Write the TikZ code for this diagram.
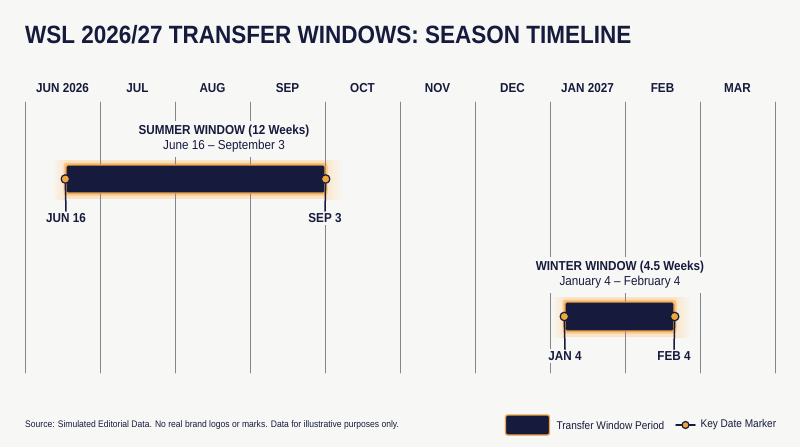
\documentclass[tikz,border=0pt]{standalone}
\usepackage{fontspec}
\setmainfont{Liberation Sans}[FakeStretch=0.9]
\usetikzlibrary{calc}
\definecolor{bgc}{HTML}{F7F7F5}
\definecolor{navy}{HTML}{161B3E}
\definecolor{gridc}{HTML}{85868C}
\definecolor{barc}{HTML}{F0A444}
\definecolor{dotc}{HTML}{EFA63D}
\definecolor{glowc}{HTML}{FBE4C6}
\definecolor{haloc}{HTML}{F6C88A}
% soft glow behind a window bar: x1, x2 (bar ends), y1, y2 (bar top, bottom)
\newcommand{\windowglow}[4]{%
	\shade[left color=bgc, right color=glowc] ({#1-14},{#3-5}) rectangle (#1,{#4+6});
	\fill[glowc] (#1,{#3-5}) rectangle (#2,{#4+6});
	\shade[left color=glowc, right color=bgc] (#2,{#3-5}) rectangle ({#2+17},{#4+6});
	\fill[haloc, rounded corners=3pt] ({#1-2.5},{#3-2.5}) rectangle ({#2+2.5},{#4+2.5});
}

\begin{document}
\begin{tikzpicture}[x=1pt, y=-1pt, line cap=round, line join=round,
	every node/.style={text=navy},
	monthlbl/.style={font=\fontsize{13}{15}\selectfont\bfseries, anchor=base},
	datelbl/.style={font=\fontsize{13}{15}\selectfont\bfseries, fill=bgc, inner sep=2pt},
	winlbl/.style={align=center, fill=bgc, inner sep=3pt, font=\fontsize{13}{16}\selectfont},
	legtxt/.style={anchor=west, font=\fontsize{11.2}{13}\selectfont},
	gridline/.style={draw=gridc, line width=0.9pt},
	winbar/.style={rectangle, fill=navy, draw=barc, line width=1.3pt, rounded corners=2pt, inner sep=0pt},
	keydot/.style={circle, fill=dotc, draw=navy, line width=1.2pt, inner sep=0pt, minimum size=8.5pt},
	keytick/.style={draw=navy, line width=1.5pt}]
\useasboundingbox (0,0) rectangle (800,447);
\fill[bgc] (0,0) rectangle (800,447);

%========================
% Title and months
%========================
\node[anchor=base west, font=\fontsize{25}{28}\selectfont\bfseries, inner sep=0pt] (title) at (25,43)
	{WSL 2026/27 TRANSFER WINDOWS: SEASON TIMELINE};
\foreach \m [count=\i from 0] in {JUN 2026, JUL, AUG, SEP, OCT, NOV, DEC, JAN 2027, FEB, MAR}
	\node[monthlbl] (month\i) at ({62.5+75*\i},92) {\m};

% glows sit under the grid
\windowglow{66}{325}{165}{193}
\windowglow{565}{674}{302}{331}

% month grid
\foreach \i in {0,...,10}
	\draw[gridline] ({25+75*\i},102) -- ({25+75*\i},373);

%========================
% Summer window
%========================
\node[winbar, minimum width=259pt, minimum height=28pt] (sumbar) at (195.5,179) {};
\node[winlbl, inner ysep=4pt] (sumlbl) at (224,139)
	{\textbf{SUMMER WINDOW (12 Weeks)}\\[-1pt] June 16 -- September 3};
\node[keydot] (jun16) at (sumbar.west) {};
\node[keydot] (sep3) at (sumbar.east) {};
\node[datelbl] (jun16lbl) at (66,218) {JUN 16};
\node[datelbl] (sep3lbl) at (325,218) {SEP 3};
\draw[keytick] (jun16.south) -- (jun16lbl.north);
\draw[keytick] (sep3.south) -- (sep3lbl.north);

%========================
% Winter window
%========================
\node[winbar, minimum width=109pt, minimum height=29pt] (winbar) at (619.5,316.5) {};
\node[winlbl, inner ysep=4pt] (winlbl) at (620,275)
	{\textbf{WINTER WINDOW (4.5 Weeks)}\\[-1pt] January 4 -- February 4};
\node[keydot] (jan4) at (winbar.west) {};
\node[keydot] (feb4) at (winbar.east) {};
\node[datelbl] (jan4lbl) at (565,356) {JAN 4};
\node[datelbl] (feb4lbl) at (674,356) {FEB 4};
\draw[keytick] (jan4.south) -- (jan4lbl.north);
\draw[keytick] (feb4.south) -- (feb4lbl.north);

%========================
% Footer: source and legend
%========================
\node[anchor=west, font=\fontsize{9.5}{11}\selectfont, inner sep=0pt] (source) at (25,425)
	{Source: Simulated Editorial Data. No real brand logos or marks. Data for illustrative purposes only.};
\node[winbar, minimum width=44pt, minimum height=20pt] (legbar) at (527.5,425) {};
\node[legtxt] (legbartxt) at (553,425) {Transfer Window Period};
\coordinate (legkeyl) at (676,425);
\coordinate (legkeyr) at (695,425);
\draw[keytick] (legkeyl) -- (legkeyr);
\node[keydot, minimum size=7pt] (legdot) at (685.5,425) {};
\node[legtxt] (legdottxt) at (697,425) {Key Date Marker};
\end{tikzpicture}
\end{document}
